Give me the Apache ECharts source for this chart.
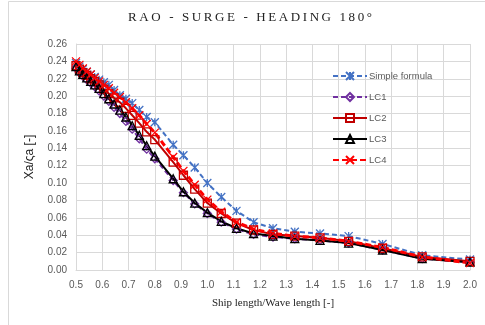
<!DOCTYPE html>
<html>
<head>
<meta charset="utf-8">
<script src="https://cdn.jsdelivr.net/npm/echarts@6/dist/echarts.min.js"></script>
<style>
  html, body { margin: 0; padding: 0; background: #fff; }
  #chart { width: 485px; height: 325px; }
</style>
</head>
<body>
<div id="chart"></div>
<script>
// Ship length / wave length ratios
const ratio = [0.5, 0.513, 0.526, 0.541, 0.556, 0.571, 0.588, 0.606, 0.625, 0.645,
  0.667, 0.690, 0.714, 0.741, 0.769, 0.8, 0.870, 0.909, 0.952, 1.0,
  1.053, 1.111, 1.176, 1.25, 1.333, 1.429, 1.538, 1.667, 1.818, 2.0];

// Surge RAO per load case
const simpleFormula = [0.238, 0.234, 0.231, 0.228, 0.225, 0.222, 0.219, 0.216, 0.213, 0.207,
  0.201, 0.197, 0.192, 0.184, 0.176, 0.170, 0.144, 0.132, 0.118, 0.100,
  0.084, 0.068, 0.055, 0.048, 0.044, 0.042, 0.039, 0.030, 0.017, 0.012];
const lc1 = [0.232, 0.227, 0.223, 0.219, 0.215, 0.211, 0.206, 0.200, 0.194, 0.187,
  0.180, 0.171, 0.162, 0.151, 0.139, 0.128, 0.103, 0.089, 0.076, 0.065,
  0.055, 0.047, 0.041, 0.038, 0.036, 0.034, 0.031, 0.023, 0.013, 0.009];
const lc2 = [0.235, 0.231, 0.227, 0.224, 0.220, 0.217, 0.213, 0.208, 0.203, 0.198,
  0.193, 0.186, 0.178, 0.169, 0.159, 0.150, 0.124, 0.109, 0.093, 0.077,
  0.065, 0.054, 0.046, 0.041, 0.039, 0.037, 0.033, 0.025, 0.015, 0.010];
const lc3 = [0.234, 0.229, 0.225, 0.221, 0.217, 0.213, 0.209, 0.203, 0.197, 0.191,
  0.184, 0.176, 0.166, 0.155, 0.143, 0.131, 0.105, 0.090, 0.077, 0.066,
  0.056, 0.048, 0.042, 0.039, 0.036, 0.034, 0.031, 0.023, 0.013, 0.009];
const lc4 = [0.240, 0.236, 0.232, 0.228, 0.225, 0.221, 0.217, 0.213, 0.209, 0.204,
  0.199, 0.193, 0.186, 0.178, 0.168, 0.158, 0.130, 0.114, 0.098, 0.081,
  0.067, 0.055, 0.047, 0.042, 0.039, 0.037, 0.033, 0.026, 0.015, 0.008];

const seriesNames = ['Simple formula', 'LC1', 'LC2', 'LC3', 'LC4'];
const titleText = 'RAO - SURGE - HEADING 180°';

const pairs = ys => ratio.map((x, i) => [x, ys[i]]);

// spread the title letters with thin spaces
const spaced = s => s.split('').join('\u2009');

// asterisk and cross marker shapes
const asterisk = 'path://M0,0L10,10M10,0L0,10M5,0L5,10';
const cross = 'path://M0,0L10,10M10,0L0,10';

const chart = echarts.init(document.getElementById('chart'), null, { renderer: 'canvas' });

const lineSeries = (name, data, color, type, width, symbol, size) => ({
  name, type: 'line', data: pairs(data),
  lineStyle: { color, width, type },
  itemStyle: { color: 'transparent', borderColor: color, borderWidth: 1.3 },
  symbol, symbolSize: size, showSymbol: true,
  emphasis: { disabled: true }, animation: false
});

chart.setOption({
  backgroundColor: '#fff',
  animation: false,
  title: {
    text: spaced(titleText),
    left: 245, top: 6, textAlign: 'center',
    textStyle: { fontFamily: 'Liberation Serif', fontSize: 13, fontWeight: 'normal', color: '#222' }
  },
  graphic: [{
    type: 'rect', shape: { x: 8.5, y: 1.5, width: 500, height: 340 },
    style: { fill: 'none', stroke: '#d9d9d9', lineWidth: 1 }, silent: true, z: -1
  }],
  legend: {
    orient: 'vertical', left: 327, top: 66, itemGap: 11,
    itemWidth: 34, itemHeight: 10,
    data: seriesNames,
    textStyle: { fontFamily: 'Liberation Sans', fontSize: 9.5, color: '#595959', padding: [0, 0, 0, -3] }
  },
  grid: { left: 76, right: 15, top: 44, bottom: 55 },
  xAxis: {
    type: 'value', min: 0.5, max: 2.0, interval: 0.1,
    name: 'Ship length/Wave length [-]', nameLocation: 'middle', nameGap: 28,
    nameTextStyle: { fontFamily: 'Liberation Serif', fontSize: 11, color: '#222' },
    axisLine: { lineStyle: { color: '#d9d9d9' } },
    axisTick: { show: false },
    axisLabel: { formatter: v => v.toFixed(1), fontFamily: 'Liberation Sans', fontSize: 10, color: '#595959', margin: 10 },
    splitLine: { show: true, lineStyle: { color: '#d9d9d9' } }
  },
  yAxis: {
    type: 'value', min: 0, max: 0.26, interval: 0.02,
    name: 'Xa/ςa [-]', nameLocation: 'middle', nameGap: 40,
    nameTextStyle: { fontFamily: 'Liberation Sans', fontSize: 12, color: '#222' },
    axisLine: { show: true, lineStyle: { color: '#d9d9d9' } },
    axisTick: { show: false },
    axisLabel: { formatter: v => v.toFixed(2), fontFamily: 'Liberation Sans', fontSize: 10, color: '#595959', margin: 9 },
    splitLine: { show: true, lineStyle: { color: '#d9d9d9' } }
  },
  series: [
    lineSeries('Simple formula', simpleFormula, '#4472C4', [5, 3], 2, asterisk, 8),
    lineSeries('LC1', lc1, '#7030A0', [5, 3], 2, 'diamond', 8),
    lineSeries('LC2', lc2, '#C00000', 'solid', 2, 'rect', 8),
    lineSeries('LC3', lc3, '#000000', 'solid', 2, 'triangle', 8),
    lineSeries('LC4', lc4, '#FF0000', [6, 3], 3, cross, 8)
  ]
});
</script>
</body>
</html>
